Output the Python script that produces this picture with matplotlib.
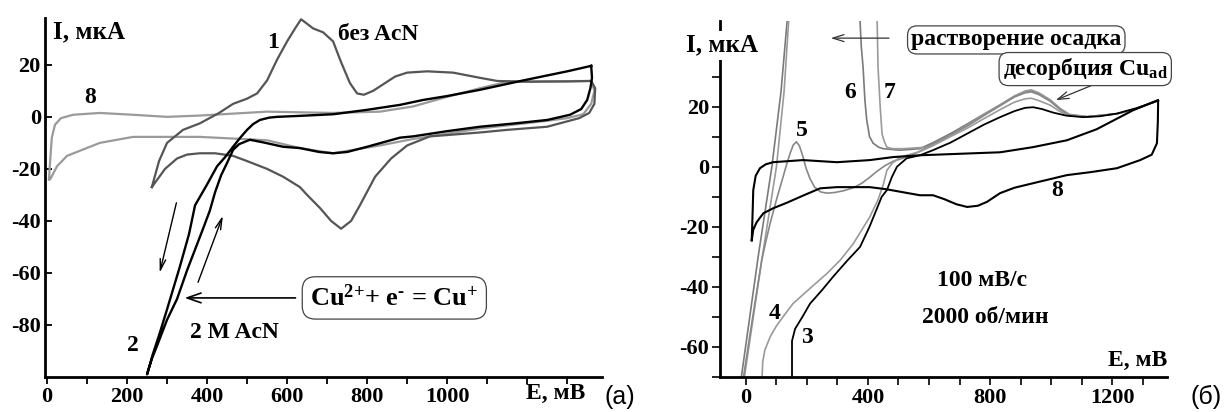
import matplotlib
matplotlib.use("Agg")
import matplotlib.pyplot as plt
from matplotlib.ticker import MultipleLocator, FixedLocator

plt.rcParams['font.family'] = ['Liberation Serif', 'DejaVu Serif']
plt.rcParams['font.weight'] = 'bold'
plt.rcParams['axes.unicode_minus'] = False
plt.rcParams['mathtext.fontset'] = 'custom'
plt.rcParams['mathtext.rm'] = 'Liberation Serif:bold'
plt.rcParams['mathtext.bf'] = 'Liberation Serif:bold'
plt.rcParams['mathtext.it'] = 'Liberation Serif:bold'

# ---------------- panel (a) data ----------------
c1_E = [262, 280, 300, 340, 382, 430, 465, 500, 525, 550, 575, 600, 620, 635, 648, 665, 690, 715, 735, 757,
        775, 792, 815, 840, 870, 900, 950, 1015, 1082, 1125, 1200, 1300, 1360, 1370, 1368, 1355, 1330, 1250,
        1150, 1082, 1000, 957, 900, 860, 820, 782, 760, 735, 710, 682, 650, 632, 590, 550, 500, 465, 420,
        382, 350, 325, 295, 262]
c1_I = [-27, -17, -10, -5, -2.5, 1.5, 5, 7, 9, 14, 22, 29, 34, 37.5, 36, 34, 32.5, 29, 21, 13,
        9, 8.5, 10, 12.5, 15.5, 17, 17.5, 17, 15, 13.8, 13.5, 13.6, 13.8, 11, 5, 1.5, -0.5, -3.8,
        -5, -6, -7, -7.5, -11, -16, -23, -34, -40, -43, -40, -35, -30, -27, -23, -20, -17, -15, -14,
        -14, -14.5, -16, -20, -27]

c2_E = [1360, 1300, 1190, 1082, 1000, 940, 882, 800, 715, 620, 575, 555, 532, 515, 500, 483, 465, 445, 425,
        400, 370, 355, 332, 300, 282, 265, 250,
        262, 275, 300, 325, 350, 370, 390, 407, 420, 435, 450, 465, 480, 507, 540, 590, 632, 680, 715,
        750, 800, 882, 915, 1000, 1082, 1170, 1250, 1307, 1335, 1350, 1358, 1362, 1360]
c2_I = [19.6, 17.5, 14, 10.4, 8, 6.5, 4.6, 2.7, 1, 0.3, 0, -0.3, -1.2, -2.8, -5, -8, -11.5, -15.5, -19,
        -26, -34, -45, -57.6, -74, -83, -91, -99,
        -93, -88, -78, -70, -59, -51, -43, -36, -29, -22.5, -17.7, -12.7, -10.5, -8.8, -9.8, -11.5, -12,
        -13.5, -14, -13.5, -11.5, -8, -7.5, -5.5, -3.8, -2.5, -1.2, 0.8, 3, 6.5, 11, 15, 19.6]

c8a_E = [5, 7, 12, 20, 35, 65, 132, 215, 300, 382, 550, 715, 832, 915, 1000, 1082, 1150, 1250, 1360,
         1368, 1360, 1340, 1300, 1250, 1082, 915, 832, 715, 632, 550, 382, 215, 132, 50, 25, 8, 5]
c8a_I = [-24, -19, -8, -3, -0.5, 0.8, 1.5, 0.8, 0, 0.5, 2, 1.5, 2, 4, 7.7, 11, 13.5, 13.7, 13.8,
         10, 5, 1, -0.5, -1.5, -4.5, -8.5, -11, -14, -12, -9, -7.7, -7.7, -10, -15, -19, -24, -24]

a_xticks = [0, 200, 400, 600, 800, 1000, 1200]
a_xlabels = ['0', '200', '400', '600', '800', '1000', '']
a_yticks = [-80, -60, -40, -20, 0, 20]

# ---------------- panel (б) data ----------------
c3_E = [151, 151, 161, 185, 210, 250, 285, 330, 374, 405, 425, 445, 462, 478, 495, 527, 570, 613, 670, 725,
        780, 833, 880, 915, 941, 970, 1007, 1050, 1105, 1160, 1216, 1280, 1351]
c3_I = [-70, -58, -54, -50, -45.6, -41, -36.7, -31.5, -26.7, -20, -15, -10, -7.8, -3.5, 0, 2.8, 3.8, 5.5, 8, 11,
        14, 16.5, 18.5, 19.6, 19.8, 19.2, 18, 17, 16.5, 16.8, 17.7, 19.5, 22]

c4_E = [53, 55, 62, 80, 100, 125, 154, 210, 265, 310, 352, 380, 406, 433, 450, 462, 480, 505, 570, 613, 670,
        725, 780, 833, 880, 915, 935, 960, 997, 1030, 1060, 1118, 1216, 1280, 1351]
c4_I = [-70, -65, -61, -56.5, -53, -49.5, -45.6, -40.5, -35.6, -31, -25.6, -21, -16.7, -11, -6, -1.2, 1.2, 3.2,
        5, 7, 10, 12.8, 16, 19, 21.5, 22.6, 22.8, 22, 20.5, 18.3, 17, 16.6, 17.6, 19.3, 22]

c5_E = [-8, 10, 30, 52, 65, 79, 100, 120, 134, 145, 155, 165, 175, 185, 197, 210, 225, 245, 265, 290, 320,
        352, 380, 406, 430, 455, 482, 520, 548, 613, 670, 725, 780, 833, 880, 915, 935, 960, 997, 1030,
        1060, 1118, 1216, 1280, 1351]
c5_I = [-70, -58, -45, -31, -25, -19, -11, -4, 1, 4.5, 7.2, 8.3, 7, 4, -0.5, -4, -6.8, -8.4, -8.8, -8.6, -8,
        -7, -5.5, -3.5, -1.5, 0.3, 1.8, 3, 4, 7.5, 10.5, 13.5, 17, 20.3, 23.2, 24.6, 24.9, 24, 21.8, 19,
        17.2, 16.6, 17.6, 19.3, 22]

c6_E = [-15, 40, 85, 115, 135, 160, 350, 374, 378, 384, 390, 396, 405, 417, 435, 449, 505, 570, 613, 670,
        725, 780, 833, 880, 915, 935, 960, 997, 1030, 1060, 1118, 1216, 1280, 1351]
c6_I = [-70, -30, 0, 25, 48.5, 90, 90, 48.5, 40, 33, 22, 15.5, 10, 7.8, 6.5, 6, 5.5, 6, 8, 11,
        14.2, 17.5, 20.6, 23.5, 25, 25.3, 24.3, 22, 19.2, 17.3, 16.6, 17.6, 19.3, 22]

c7_E = [-5, 52, 100, 125, 140, 165, 425, 430, 433, 440, 446, 450, 455, 462, 480, 515, 593, 613, 670, 725,
        780, 833, 880, 915, 935, 960, 997, 1030, 1060, 1118, 1216, 1280, 1351]
c7_I = [-70, -31, 0, 25, 48.5, 90, 90, 48.5, 33, 20, 11, 9.5, 8, 6.5, 6, 6, 6.5, 7.5, 10.5, 13.8,
        17.3, 20.5, 23.5, 25.2, 25.6, 24.6, 22.3, 19.4, 17.4, 16.7, 17.6, 19.3, 22]

c8b_E = [19, 22, 24, 32, 46, 65, 89, 187, 298, 406, 482, 570, 700, 833, 940, 1052, 1150, 1269, 1351,
         1350, 1347, 1330, 1292, 1216, 1130, 1052, 941, 880, 833, 790, 760, 725, 690, 650, 613, 570, 515,
         460, 406, 298, 243, 190, 134, 90, 57, 35, 24, 19]
c8b_I = [-24.5, -15, -7.8, -3, -0.5, 0.8, 1.5, 2.2, 1.5, 2.2, 3.2, 3.8, 4.3, 4.8, 6.5, 8.8, 12.5, 18.8, 22.2,
         15, 7.8, 4, 2.2, -0.5, -1.8, -2.8, -5.5, -7, -8.8, -11.7, -13, -13.4, -12.5, -10.8, -9.5, -9.5, -8.5,
         -7.5, -6.8, -6.8, -7.2, -9.5, -12, -13.8, -15.5, -18.5, -21, -24.5]

b_xticks = [0, 400, 800, 1200]
b_yticks = [-60, -40, -20, 0, 20]

# ---------------- figure ----------------
W, H = 1228, 412
fig = plt.figure(figsize=(W / 100, H / 100), dpi=100)
fig.patch.set_facecolor('white')

def rect(x0, y0, x1, y1):
    return [x0 / W, 1 - y1 / H, (x1 - x0) / W, (y1 - y0) / H]

ax1 = fig.add_axes(rect(45, 18, 602, 377))
ax2 = fig.add_axes(rect(720, 21, 1167, 377))

TICK_FS = 16
NUM_FS = 17
TXT_FS = 17

for ax in (ax1, ax2):
    for s in ('top', 'right'):
        ax.spines[s].set_visible(False)
    for s in ('left', 'bottom'):
        ax.spines[s].set_linewidth(2)

# panel (a)
ax1.plot(c1_E, c1_I, color='#555555', lw=1.6, zorder=3)
ax1.plot(c8a_E, c8a_I, color='#9a9a9a', lw=1.6, zorder=2)
ax1.plot(c2_E, c2_I, color='black', lw=1.7, zorder=4)
ax1.set_xlim(-5, 1387)
ax1.set_ylim(-100, 38)
ax1.xaxis.set_major_locator(FixedLocator(a_xticks))
ax1.set_xticklabels(a_xlabels, fontweight='bold', fontsize=TICK_FS)
ax1.xaxis.set_minor_locator(MultipleLocator(100))
ax1.yaxis.set_major_locator(FixedLocator(a_yticks))
ax1.set_yticklabels([str(v) for v in a_yticks], fontweight='bold', fontsize=TICK_FS)
ax1.tick_params(axis='x', which='both', direction='out', length=5, width=1.3, pad=2)
ax1.tick_params(axis='y', which='both', direction='in', length=5, width=1.3, pad=3)

ax1.text(15, 32.7, 'I, мкА', fontsize=18, ha='left', va='center')
ax1.text(565, 28.5, '1', fontsize=NUM_FS, ha='center', va='center')
ax1.text(727, 31.5, 'без AcN', fontsize=TXT_FS, ha='left', va='center')
ax1.text(107, 7.3, '8', fontsize=NUM_FS, ha='center', va='center')
ax1.text(215, -87.7, '2', fontsize=NUM_FS, ha='center', va='center')
ax1.text(357, -83, '2 M AcN', fontsize=TXT_FS, ha='left', va='center')
ax1.text(1270, -106.5, 'E, мВ', fontsize=TXT_FS, ha='center', va='center', clip_on=False)
ax1.text(868, -69.6, r'Cu$^{2{+}}$+ e$^{\text{-}}$ = Cu$^{{+}}$', fontsize=19, ha='center', va='center',
         bbox=dict(boxstyle='round,pad=0.3,rounding_size=0.5', fc='white', ec='#444444', lw=0.9), zorder=6)
ax1.annotate('', xy=(337, -69.6), xytext=(628, -69.6),
             arrowprops=dict(arrowstyle='->,head_length=1.0,head_width=0.35', color='black', lw=1.2))
ax1.annotate('', xy=(280, -61), xytext=(325, -32),
             arrowprops=dict(arrowstyle='->,head_length=0.8,head_width=0.2', color='black', lw=1.0))
ax1.annotate('', xy=(442, -37), xytext=(375, -64.6),
             arrowprops=dict(arrowstyle='->,head_length=0.8,head_width=0.2', color='black', lw=1.0))

# panel (б)
ax2.plot(c8b_E, c8b_I, color='black', lw=1.5, zorder=4)
ax2.plot(c6_E, c6_I, color='#7a7a7a', lw=1.2, zorder=2)
ax2.plot(c7_E, c7_I, color='#9a9a9a', lw=1.2, zorder=2)
ax2.plot(c5_E, c5_I, color='#888888', lw=1.2, zorder=2)
ax2.plot(c4_E, c4_I, color='#9a9a9a', lw=1.2, zorder=2)
ax2.plot(c3_E, c3_I, color='black', lw=1.3, zorder=3)
ax2.set_xlim(-85, 1380)
ax2.set_ylim(-70, 48.5)
ax2.xaxis.set_major_locator(FixedLocator(b_xticks))
ax2.set_xticklabels([str(v) for v in b_xticks], fontweight='bold', fontsize=TICK_FS)
ax2.xaxis.set_minor_locator(MultipleLocator(100))
ax2.yaxis.set_major_locator(FixedLocator(b_yticks))
ax2.set_yticklabels([str(v) for v in b_yticks], fontweight='bold', fontsize=TICK_FS)
ax2.yaxis.set_minor_locator(MultipleLocator(10))
ax2.tick_params(axis='both', which='both', direction='out', length=6, width=1.2, pad=2)

ax2.text(-195, 40.5, 'I, мкА', fontsize=18, ha='left', va='center', clip_on=False, zorder=8,
         bbox=dict(boxstyle='square,pad=0.12', fc='white', ec='none'))
ax2.text(341, 24.8, '6', fontsize=NUM_FS, ha='center', va='center')
ax2.text(472, 24.8, '7', fontsize=NUM_FS, ha='center', va='center')
ax2.text(184, 12.2, '5', fontsize=NUM_FS, ha='center', va='center')
ax2.text(1020, -7.8, '8', fontsize=NUM_FS, ha='center', va='center')
ax2.text(95, -48.8, '4', fontsize=NUM_FS, ha='center', va='center')
ax2.text(200, -56.8, '3', fontsize=NUM_FS, ha='center', va='center')
ax2.text(774, -37.8, '100 мВ/с', fontsize=TXT_FS, ha='center', va='center')
ax2.text(784, -50.2, '2000 об/мин', fontsize=TXT_FS, ha='center', va='center')
ax2.text(1380, -64.5, 'E, мВ', fontsize=TXT_FS, ha='right', va='center')
ax2.text(886, 42.2, 'растворение осадка', fontsize=TXT_FS, ha='center', va='center', zorder=6,
         bbox=dict(boxstyle='round,pad=0.15,rounding_size=0.4', fc='white', ec='#444444', lw=0.9))
ax2.text(1112, 32.5, r'десорбция Cu$_{\mathbf{ad}}$', fontsize=TXT_FS, ha='center', va='center', zorder=6,
         bbox=dict(boxstyle='round,pad=0.15,rounding_size=0.4', fc='white', ec='#444444', lw=0.9))
ax2.annotate('', xy=(269, 42.8), xytext=(478, 42.8),
             arrowprops=dict(arrowstyle='->,head_length=0.8,head_width=0.25', color='#333333', lw=0.9))
ax2.annotate('', xy=(1007, 21.8), xytext=(1151, 27.8),
             arrowprops=dict(arrowstyle='->,head_length=0.8,head_width=0.25', color='#333333', lw=0.9))

fig.text(620 / W, 1 - 397 / H, '(a)', fontsize=18, fontweight='normal', family='Liberation Sans',
         ha='center', va='center')
fig.text(1206 / W, 1 - 397 / H, '(б)', fontsize=18, fontweight='normal', family='Liberation Sans',
         ha='center', va='center')

fig.savefig('out.png', dpi=100, facecolor='white')
